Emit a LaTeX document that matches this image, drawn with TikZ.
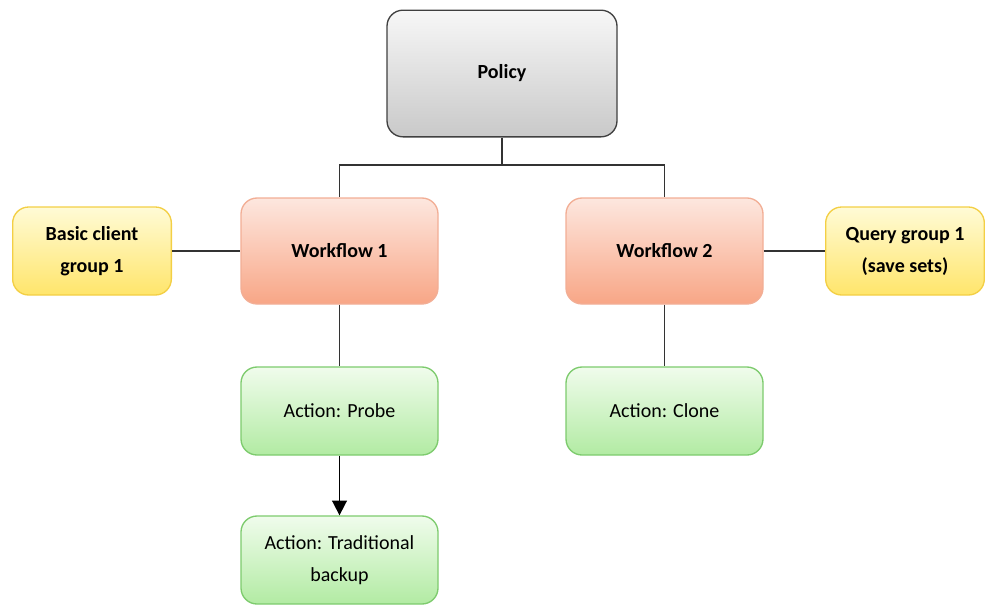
\documentclass[tikz,border=0pt]{standalone}
\usepackage{fontspec}
\setmainfont{Carlito}
\usepackage{tikz}
\usetikzlibrary{arrows.meta,positioning}
\definecolor{polyTop}{HTML}{F7F7F7}
\definecolor{polyBot}{HTML}{C9C9C9}
\definecolor{wfTop}{HTML}{FDE7DF}
\definecolor{wfBot}{HTML}{F8A686}
\definecolor{wfLine}{HTML}{F2AE95}
\definecolor{grpTop}{HTML}{FFFBD6}
\definecolor{grpBot}{HTML}{FFE56B}
\definecolor{grpLine}{HTML}{F3CF45}
\definecolor{actTop}{HTML}{F0FCEC}
\definecolor{actBot}{HTML}{B2EBA3}
\definecolor{actLine}{HTML}{7DCB6D}

\begin{document}
\begin{tikzpicture}[
  x=0.75pt, y=-0.75pt,
  every node/.style={rounded corners=12pt,align=center,line width=1pt,
    font=\fontsize{15}{24}\selectfont},
  policybox/.style={draw=black!75,top color=polyTop,bottom color=polyBot,
    minimum width=172.5pt,minimum height=95pt,font=\fontsize{15}{24}\selectfont\bfseries},
  flowbox/.style={draw=wfLine,top color=wfTop,bottom color=wfBot,
    minimum width=147.75pt,minimum height=79.5pt,font=\fontsize{15}{24}\selectfont\bfseries},
  groupbox/.style={draw=grpLine,top color=grpTop,bottom color=grpBot,
    minimum width=119pt,minimum height=66pt,font=\fontsize{15}{24}\selectfont\bfseries},
  actionbox/.style={draw=actLine,top color=actTop,bottom color=actBot,
    minimum width=147.75pt,minimum height=66pt},
  link/.style={draw=black!80,line width=1.3pt,rounded corners=0pt}
]
\useasboundingbox (0,0) rectangle (985,604);
\node[policybox] (policy) at (502,73.5) {Policy};
\node[flowbox] (wf1) at (339.5,251) {Workflow 1};
\node[flowbox] (wf2) at (664.5,251) {Workflow 2};
\node[groupbox] (client) at (92,251) {Basic client\\group 1};
\node[groupbox] (query) at (905,251) {Query group 1\\(save sets)};
\node[actionbox] (probe) at (339.5,411) {Action: Probe};
\node[actionbox] (clone) at (664.5,411) {Action: Clone};
\node[actionbox] (backup) at (339.5,560) {Action: Traditional\\backup};
\coordinate (split) at (502,165);
\draw[link] (policy.south) -- (split);
\draw[link] (split) -| (wf1.north);
\draw[link] (split) -| (wf2.north);
\draw[link] (client) -- (wf1);
\draw[link] (wf2) -- (query);
\draw[link] (wf1) -- (probe);
\draw[link] (wf2) -- (clone);
\draw[link,draw=black,-{Triangle[length=11pt,width=11pt]}] (probe) -- (backup);
\end{tikzpicture}
\end{document}
